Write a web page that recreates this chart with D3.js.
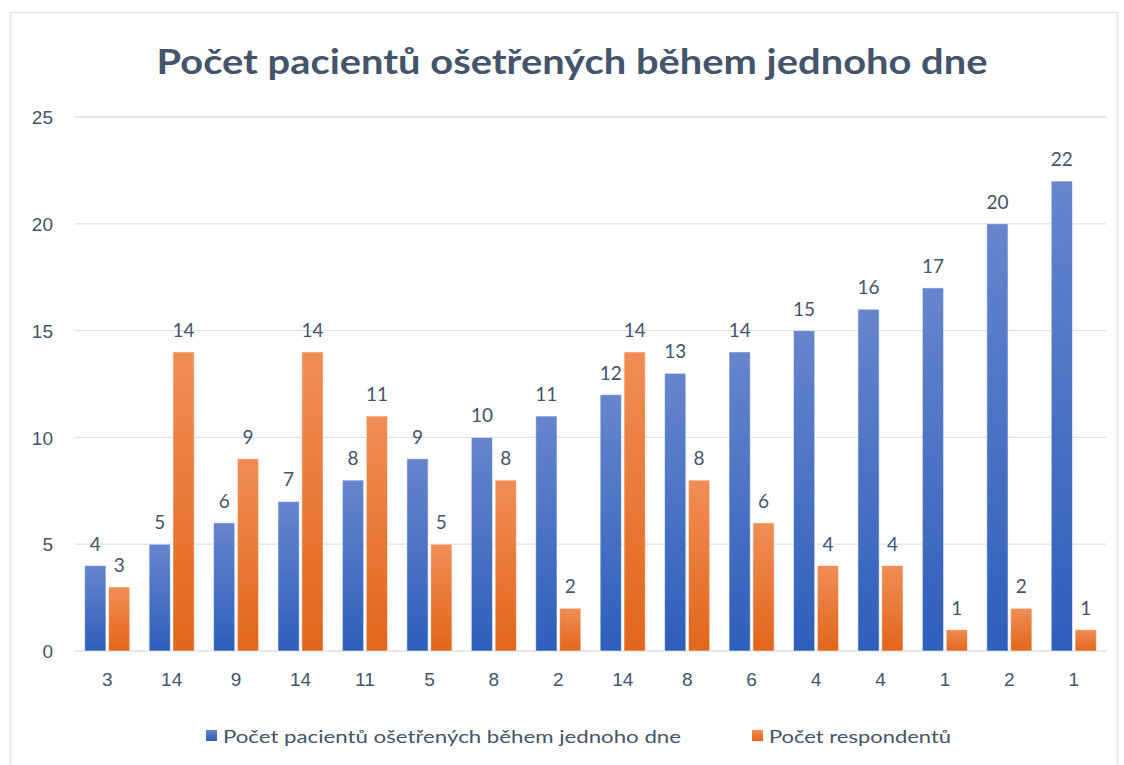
<!DOCTYPE html>
<html lang="cs">
<head>
  <meta charset="UTF-8">
  <title>Počet pacientů ošetřených během jednoho dne</title>
  <script src="https://cdnjs.cloudflare.com/ajax/libs/d3/7.8.5/d3.min.js"></script>
  <style>
    body { margin: 0; background: #fff; }
    svg { font-family: Lato, "Open Sans", sans-serif; }
    .axis path, .axis line { display: none; }
    .axis text { fill: #44546a; font-size: 19px; }
    .grid line { stroke: #dde1e6; stroke-width: 1.3px; }
    .val { fill: #44546a; font-size: 19px; text-anchor: middle; }
  </style>
</head>
<body>
  <svg width="1124" height="765"></svg>
  <script>
    // data
    var categories = ['3', '14', '9', '14', '11', '5', '8', '2', '14', '8', '6', '4', '4', '1', '2', '1']
    var pacienti = [4, 5, 6, 7, 8, 9, 10, 11, 12, 13, 14, 15, 16, 17, 20, 22]
    var respondenti = [3, 14, 9, 14, 11, 5, 8, 2, 14, 8, 6, 4, 4, 1, 2, 1]
    var yTicks = [0, 5, 10, 15, 20, 25]
    var seriesNames = ['Počet pacientů ošetřených během jednoho dne', 'Počet respondentů']

    var svg = d3.select('svg')
    var margin = { left: 75, right: 18, top: 117, bottom: 114 }
    var W = 1124, H = 765

    // chart frame
    svg.append('rect')
       .attr('x', 10.5).attr('y', 12.5)
       .attr('width', 1107).attr('height', 770)
       .attr('fill', 'none').attr('stroke', '#dfe4ec').attr('stroke-width', 1.3)

    var defs = svg.append('defs')
    function grad(id, top, bottom) {
      var g = defs.append('linearGradient').attr('id', id)
        .attr('x1', 0).attr('y1', 0).attr('x2', 0).attr('y2', 1)
      g.append('stop').attr('offset', '0%').attr('stop-color', top)
      g.append('stop').attr('offset', '100%').attr('stop-color', bottom)
    }
    grad('gBlue', '#6685cd', '#2e5fbb')
    grad('gOrange', '#f18d55', '#e2661b')

    var x = d3.scaleBand()
      .domain(d3.range(categories.length))
      .range([margin.left, W - margin.right])
      .paddingInner(0.3).paddingOuter(0.15)

    var xs = d3.scaleBand().domain([0, 1]).range([0, x.bandwidth()]).paddingInner(0.11)

    var y = d3.scaleLinear().domain([0, 25]).range([H - margin.bottom, margin.top])

    // gridlines
    svg.append('g').attr('class', 'grid')
       .selectAll('line').data(yTicks).join('line')
       .attr('x1', margin.left).attr('x2', W - margin.right)
       .attr('y1', d => y(d)).attr('y2', d => y(d))

    // y axis labels
    svg.append('g').attr('class', 'axis')
       .attr('transform', 'translate(' + (margin.left - 22) + ',0)')
       .call(d3.axisLeft(y).tickValues(yTicks).tickSize(0).tickPadding(0))
       .selectAll('text').attr('dy', '0.35em')

    // x axis labels
    svg.append('g').attr('class', 'axis')
       .attr('transform', 'translate(0,' + (H - margin.bottom + 21) + ')')
       .call(d3.axisBottom(x).tickFormat(i => categories[i]).tickSize(0).tickPadding(0))
       .selectAll('text').attr('dy', '0.75em')

    var series = [
      { vals: pacienti, fill: 'url(#gBlue)' },
      { vals: respondenti, fill: 'url(#gOrange)' }
    ]

    series.forEach(function (s, si) {
      var g = svg.append('g')
      g.selectAll('rect').data(s.vals).join('rect')
        .attr('x', (d, i) => x(i) + xs(si))
        .attr('width', xs.bandwidth())
        .attr('y', d => y(d))
        .attr('height', d => y(0) - y(d))
        .attr('fill', s.fill)
        .attr('stroke', 'rgba(255,255,255,0.55)')
        .attr('stroke-width', 1)

      g.selectAll('text').data(s.vals).join('text')
        .attr('class', 'val')
        .attr('x', (d, i) => x(i) + xs(si) + xs.bandwidth() / 2)
        .attr('y', d => y(d) - 15)
        .text(d => d)
    })

    // title
    svg.append('text')
       .attr('x', 572).attr('y', 74)
       .attr('text-anchor', 'middle')
       .attr('font-weight', 'bold').attr('font-size', 34)
       .attr('fill', '#44546a')
       .attr('textLength', 831).attr('lengthAdjust', 'spacingAndGlyphs')
       .text('Počet pacientů ošetřených během jednoho dne')

    // legend
    var legX = [206, 752]
    var legW = [458, 182]
    var legFill = ['url(#gBlue)', 'url(#gOrange)']
    var leg = svg.append('g')
    seriesNames.forEach(function (name, i) {
      leg.append('rect')
         .attr('x', legX[i]).attr('y', 730)
         .attr('width', 11).attr('height', 11)
         .attr('fill', legFill[i])
      leg.append('text')
         .attr('x', legX[i] + 17).attr('y', 743)
         .attr('font-size', 18).attr('fill', '#44546a')
         .attr('textLength', legW[i]).attr('lengthAdjust', 'spacingAndGlyphs')
         .text(name)
    })
  </script>
</body>
</html>
